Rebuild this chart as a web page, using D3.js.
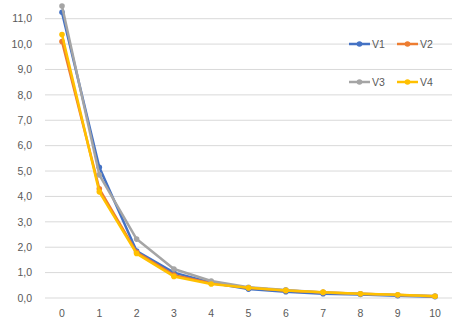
<!DOCTYPE html>
<html>
<head>
<meta charset="utf-8">
<script src="https://cdn.jsdelivr.net/npm/d3@7"></script>
<style>
  body { margin: 0; background: #fff; }
  svg { display: block; font-family: "Liberation Sans", "DejaVu Sans", sans-serif; }
</style>
</head>
<body>
<svg id="chart" width="454" height="327"></svg>
<script>
// x values (0..10)
const steps = [0, 1, 2, 3, 4, 5, 6, 7, 8, 9, 10];
const yTicks = [0, 1, 2, 3, 4, 5, 6, 7, 8, 9, 10, 11];
const seriesNames = ["V1", "V2", "V3", "V4"];

const v1 = [11.25, 5.15, 1.85, 1.0, 0.6, 0.35, 0.25, 0.17, 0.14, 0.09, 0.05];
const v2 = [10.1, 4.3, 1.8, 0.9, 0.58, 0.4, 0.3, 0.22, 0.17, 0.12, 0.07];
const v3 = [11.5, 4.85, 2.32, 1.14, 0.67, 0.42, 0.32, 0.22, 0.17, 0.12, 0.08];
const v4 = [10.38, 4.18, 1.75, 0.85, 0.55, 0.4, 0.3, 0.23, 0.17, 0.13, 0.07];

const colors = ["#4472c4", "#ed7d31", "#a5a5a5", "#ffc000"];
const allSeries = [v1, v2, v3, v4];

const svg = d3.select("#chart");

// scales, hand-fitted to the reference plot area
const x = d3.scaleLinear().domain([0, 10]).range([62, 435]);
const y = d3.scaleLinear().domain([0, 11]).range([298, 18.7]);

// gridlines
svg.append("g")
  .selectAll("line")
  .data(yTicks)
  .enter()
  .append("line")
  .attr("x1", 45)
  .attr("x2", 452)
  .attr("y1", d => y(d))
  .attr("y2", d => y(d))
  .attr("stroke", "#d9d9d9")
  .attr("stroke-width", 1);

// y labels
svg.append("g")
  .selectAll("text")
  .data(yTicks)
  .enter()
  .append("text")
  .attr("x", 32)
  .attr("y", d => y(d))
  .attr("dy", "0.35em")
  .attr("text-anchor", "end")
  .attr("fill", "#595959")
  .style("font-size", "10.5px")
  .text(d => d3.format(".1f")(d).replace(".", ","));

// x labels
svg.append("g")
  .selectAll("text")
  .data(steps)
  .enter()
  .append("text")
  .attr("x", d => x(d))
  .attr("y", 317)
  .attr("text-anchor", "middle")
  .attr("fill", "#595959")
  .style("font-size", "10.5px")
  .text(d => d);

const line = d3.line()
  .x((d, i) => x(steps[i]))
  .y(d => y(d));

// lines + markers
allSeries.forEach((vals, k) => {
  const g = svg.append("g");
  g.append("path")
    .datum(vals)
    .attr("d", line)
    .attr("fill", "none")
    .attr("stroke", colors[k])
    .attr("stroke-width", 2.5)
    .attr("stroke-linejoin", "round");
  g.selectAll("circle")
    .data(vals)
    .enter()
    .append("circle")
    .attr("cx", (d, i) => x(steps[i]))
    .attr("cy", d => y(d))
    .attr("r", 2.8)
    .attr("fill", colors[k]);
});

// legend: 2 x 2
const legend = svg.append("g")
  .selectAll("g")
  .data(seriesNames)
  .enter()
  .append("g")
  .attr("transform", (d, i) => "translate(" + (349 + (i % 2) * 48) + "," + (44 + Math.floor(i / 2) * 38) + ")");

legend.append("line")
  .attr("x1", 0)
  .attr("x2", 21)
  .attr("stroke", (d, i) => colors[i])
  .attr("stroke-width", 2.5);
legend.append("circle")
  .attr("cx", 10.5)
  .attr("r", 2.8)
  .attr("fill", (d, i) => colors[i]);
legend.append("text")
  .attr("x", 23)
  .attr("dy", "0.35em")
  .attr("fill", "#595959")
  .style("font-size", "10.5px")
  .text(d => d);
</script>
</body>
</html>
